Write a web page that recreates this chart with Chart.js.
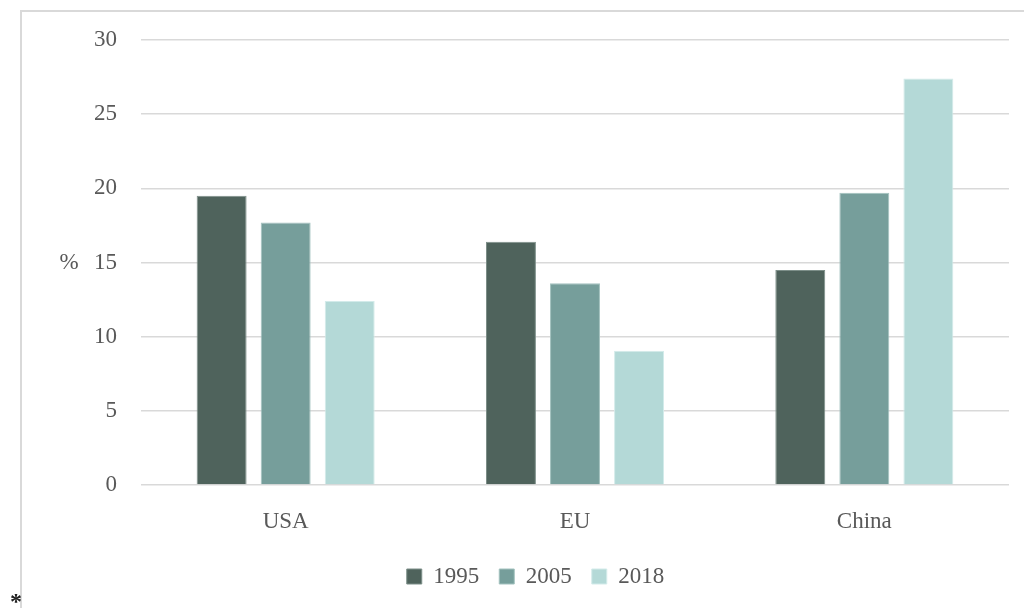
<!DOCTYPE html>
<html lang="en">
<head>
    <meta charset="UTF-8">
    <title>Share by region</title>
    <script src="https://cdn.jsdelivr.net/npm/chart.js"></script>
    <style>
        body { margin: 0; background: #fff; }
        #wrap { position: relative; width: 1024px; height: 608px; overflow: hidden; }
        #frame { position: absolute; left: 20px; top: 10px; width: 1100px; height: 700px;
                 border-left: 2px solid #d9d9d9; border-top: 2px solid #d9d9d9; }
        #note { position: absolute; left: 10px; top: 589px; font: bold 24px "Liberation Serif", serif; color: #222; line-height: 1; }
        canvas { position: absolute; left: 0; top: 0; }
    </style>
</head>
<body>
<div id="wrap">
    <div id="frame"></div>
    <canvas id="chart" width="1024" height="608"></canvas>
    <span id="note">*</span>
</div>
<script>
    // data
    const regions = ['USA', 'EU', 'China'];
    const years = ['1995', '2005', '2018'];
    const v1995 = [19.5, 16.4, 14.5];
    const v2005 = [17.7, 13.6, 19.7];
    const v2018 = [12.4, 9.05, 27.4];
    const yTicks = [0, 5, 10, 15, 20, 25, 30];
    const unitLabel = '%';

    const colors = ['#4f635c', '#769e9b', '#b4d9d7'];
    const edges = ['#7d8f89', '#a3c2bf', '#d3ebea'];
    const textColor = '#595959';
    const serif = '"Liberation Serif", "Times New Roman", serif';

    // draws the horizontal "%" next to the y ticks
    const unitPlugin = {
        id: 'unitLabel',
        afterDraw(chart) {
            const ctx = chart.ctx;
            const area = chart.chartArea;
            ctx.save();
            ctx.fillStyle = textColor;
            ctx.font = '23px ' + serif;
            ctx.textAlign = 'center';
            ctx.textBaseline = 'middle';
            ctx.fillText(unitLabel, 69, (area.top + area.bottom) / 2);
            ctx.restore();
        }
    };

    const series = [v1995, v2005, v2018];
    const ctx = document.getElementById('chart').getContext('2d');
    const chart = new Chart(ctx, {
        type: 'bar',
        data: {
            labels: regions,
            datasets: years.map((y, i) => ({
                label: y,
                data: series[i],
                backgroundColor: colors[i],
                borderColor: edges[i],
                borderWidth: 1,
                categoryPercentage: 0.664,
                barPercentage: 0.78
            }))
        },
        options: {
            responsive: false,
            animation: false,
            layout: { padding: { left: 62, right: 15, top: 40, bottom: 10 } },
            plugins: {
                tooltip: { enabled: false },
                legend: {
                    position: 'bottom',
                    labels: {
                        boxWidth: 15,
                        boxHeight: 15,
                        padding: 20,
                        color: textColor,
                        font: { family: serif, size: 23 }
                    }
                }
            },
            scales: {
                x: {
                    grid: { display: false, drawTicks: false },
                    border: { display: false },
                    ticks: {
                        color: textColor,
                        padding: 23,
                        font: { family: serif, size: 23 }
                    },
                    afterFit(scale) { scale.height = 60; }
                },
                y: {
                    min: 0,
                    max: 30,
                    afterBuildTicks(scale) { scale.ticks = yTicks.map(v => ({ value: v })); },
                    grid: { color: '#d9d9d9', lineWidth: 1.5, drawTicks: false },
                    border: { display: false },
                    ticks: {
                        color: textColor,
                        padding: 24,
                        font: { family: serif, size: 23 }
                    },
                    afterFit(scale) { scale.width = 79; }
                }
            }
        },
        plugins: [unitPlugin]
    });
</script>
</body>
</html>
